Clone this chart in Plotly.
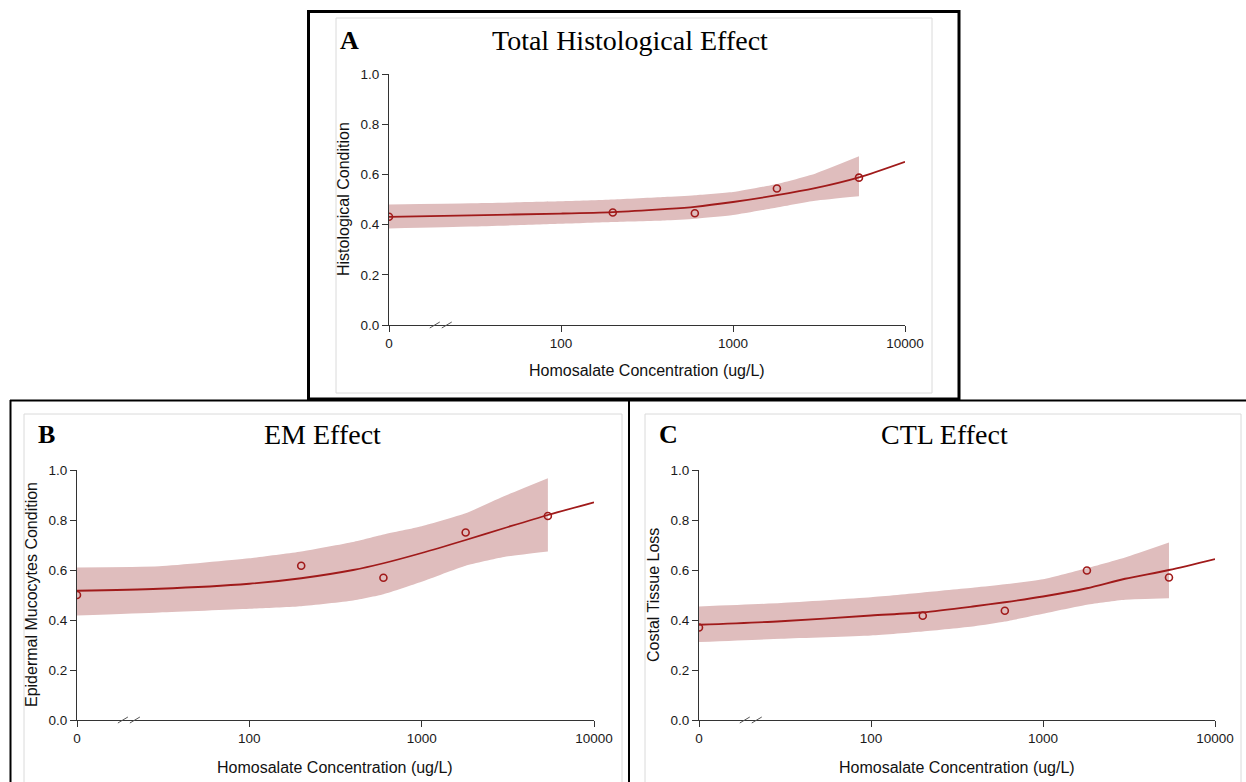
import numpy as np
import plotly.graph_objects as go

W, H = 1246, 782

# ---------------- data ----------------
CONC = [0, 200, 600, 1800, 5400]                      # tested concentrations (ug/L)
CURVE_X = [0, 30, 100, 200, 400, 600, 1000, 1800, 3000, 5400, 10000]
BAND_X = [0, 30, 100, 200, 400, 600, 1000, 1800, 3000, 5400]

A_POINTS = [0.431, 0.448, 0.445, 0.544, 0.587]
A_CURVE = [0.431, 0.437, 0.444, 0.450, 0.462, 0.471, 0.490, 0.517, 0.545, 0.588, 0.650]
A_UPPER = [0.480, 0.485, 0.493, 0.500, 0.510, 0.517, 0.530, 0.562, 0.603, 0.672]
A_LOWER = [0.384, 0.392, 0.403, 0.410, 0.416, 0.423, 0.438, 0.468, 0.495, 0.513]

B_POINTS = [0.500, 0.617, 0.569, 0.750, 0.816]
B_CURVE = [0.517, 0.525, 0.545, 0.567, 0.600, 0.627, 0.668, 0.720, 0.767, 0.820, 0.871]
B_UPPER = [0.610, 0.615, 0.647, 0.674, 0.712, 0.742, 0.775, 0.827, 0.895, 0.967]
B_LOWER = [0.418, 0.430, 0.445, 0.455, 0.478, 0.503, 0.553, 0.617, 0.652, 0.674]

C_POINTS = [0.370, 0.417, 0.437, 0.598, 0.570]
C_CURVE = [0.381, 0.395, 0.418, 0.431, 0.455, 0.471, 0.494, 0.527, 0.565, 0.600, 0.644]
C_UPPER = [0.454, 0.468, 0.491, 0.510, 0.530, 0.543, 0.563, 0.607, 0.650, 0.710]
C_LOWER = [0.312, 0.325, 0.338, 0.354, 0.375, 0.394, 0.425, 0.461, 0.481, 0.487]

X_TICKS = [0, 100, 1000, 10000]
X_TICK_TEXT = ["0", "100", "1000", "10000"]
Y_TICKS = [0.0, 0.2, 0.4, 0.6, 0.8, 1.0]

PANELS = [
    dict(letter="A", title="Total Histological Effect", ytitle="Histological Condition",
         pts=A_POINTS, curve=A_CURVE, up=A_UPPER, lo=A_LOWER),
    dict(letter="B", title="EM Effect", ytitle="Epidermal Mucocytes Condition",
         pts=B_POINTS, curve=B_CURVE, up=B_UPPER, lo=B_LOWER),
    dict(letter="C", title="CTL Effect", ytitle="Costal Tissue Loss",
         pts=C_POINTS, curve=C_CURVE, up=C_UPPER, lo=C_LOWER),
]
XLABEL = "Homosalate Concentration (ug/L)"

ZERO_POS = 10      # axis position used for the "0" concentration (broken axis)
BREAK_AT = 20      # where the axis-break symbol is drawn

def pos(v):
    return [ZERO_POS if c == 0 else c for c in v]

# ---------------- layout geometry (pixels) ----------------
GEOM = [
    dict(x0=389, x1=905, y0=74, y1=325, frame=(336, 932, 18, 393),
         title_xy=(630, 41), letter_xy=(349, 41), ytitle_xy=(343, 199), xtitle_xy=(647, 370)),
    dict(x0=77, x1=594, y0=470, y1=720, frame=(24, 622, 414, 790),
         title_xy=(322, 434), letter_xy=(46, 434), ytitle_xy=(31, 595), xtitle_xy=(335, 767)),
    dict(x0=699, x1=1215, y0=470, y1=720, frame=(645, 1241, 414, 790),
         title_xy=(944, 434), letter_xy=(669, 434), ytitle_xy=(653, 595), xtitle_xy=(957, 767)),
]

def pxx(x):
    return x / W

def pyy(y):
    return 1 - y / H

LINE_COL = "#A01A1A"
BAND_COL = "#DFBDBD"
AXIS_COL = "#333333"
SERIF = "Liberation Serif, Times New Roman, serif"
SANS = "Liberation Sans, Arial, sans-serif"

fig = go.Figure()
layout = dict(width=W, height=H, margin=dict(l=0, r=0, t=0, b=0, pad=0, autoexpand=False),
              template="none",
              paper_bgcolor="white", plot_bgcolor="white", showlegend=False)
annotations = []
shapes = []

for i, (p, g) in enumerate(zip(PANELS, GEOM)):
    sfx = "" if i == 0 else str(i + 1)
    xa, ya = "x" + sfx, "y" + sfx
    bx = pos(BAND_X)
    fig.add_trace(go.Scatter(
        x=bx, y=p["lo"], xaxis=xa, yaxis=ya, mode="lines",
        line=dict(width=0, color=BAND_COL, shape="spline", smoothing=0.5),
        hoverinfo="skip"))
    fig.add_trace(go.Scatter(
        x=bx, y=p["up"], xaxis=xa, yaxis=ya, mode="lines", fill="tonexty", fillcolor=BAND_COL,
        line=dict(width=0, color=BAND_COL, shape="spline", smoothing=0.5),
        hoverinfo="skip"))
    fig.add_trace(go.Scatter(
        x=pos(CURVE_X), y=p["curve"], xaxis=xa, yaxis=ya, mode="lines",
        line=dict(color=LINE_COL, width=1.8, shape="spline", smoothing=0.8)))
    fig.add_trace(go.Scatter(
        x=pos(CONC), y=p["pts"], xaxis=xa, yaxis=ya, mode="markers",
        marker=dict(symbol="circle-open", size=7, color=LINE_COL, line=dict(width=1.6, color=LINE_COL))))

    layout["xaxis" + sfx] = dict(
        type="log", range=[np.log10(ZERO_POS), 4], domain=[pxx(g["x0"]), pxx(g["x1"])],
        anchor=ya, automargin=False, showgrid=False, zeroline=False, showline=True,
        linecolor=AXIS_COL, linewidth=1, mirror=False,
        ticks="outside", ticklen=6, tickcolor=AXIS_COL, tickwidth=1,
        tickvals=pos(X_TICKS), ticktext=X_TICK_TEXT,
        tickfont=dict(family=SANS, size=13.5, color="#1a1a1a"))
    layout["yaxis" + sfx] = dict(
        range=[0, 1], domain=[pyy(g["y1"]), pyy(g["y0"])], anchor=xa,
        automargin=False, showgrid=False, zeroline=False, showline=True,
        linecolor=AXIS_COL, linewidth=1, mirror=False,
        ticks="outside", ticklen=6, tickcolor=AXIS_COL, tickwidth=1,
        tickvals=Y_TICKS, tickformat=".1f",
        tickfont=dict(family=SANS, size=13.5, color="#1a1a1a"))

    # titles
    tx, ty = g["title_xy"]
    annotations.append(dict(x=pxx(tx), y=pyy(ty), xref="paper", yref="paper", text=p["title"],
                            showarrow=False, xanchor="center", yanchor="middle",
                            font=dict(family=SERIF, size=28, color="black")))
    lx, ly = g["letter_xy"]
    annotations.append(dict(x=pxx(lx), y=pyy(ly), xref="paper", yref="paper", text="<b>%s</b>" % p["letter"],
                            showarrow=False, xanchor="center", yanchor="middle",
                            font=dict(family=SERIF, size=26, color="black")))
    yx, yy = g["ytitle_xy"]
    annotations.append(dict(x=pxx(yx), y=pyy(yy), xref="paper", yref="paper", text=p["ytitle"],
                            showarrow=False, textangle=-90, xanchor="center", yanchor="middle",
                            font=dict(family=SANS, size=16, color="#111")))
    xx, xy = g["xtitle_xy"]
    annotations.append(dict(x=pxx(xx), y=pyy(xy), xref="paper", yref="paper", text=XLABEL,
                            showarrow=False, xanchor="center", yanchor="middle",
                            font=dict(family=SANS, size=16, color="#111")))

    # inner light frame (original figure border)
    fx0, fx1, fy0, fy1 = g["frame"]
    shapes.append(dict(type="rect", xref="paper", yref="paper", x0=pxx(fx0), x1=pxx(fx1),
                       y0=pyy(fy1), y1=pyy(fy0), line=dict(color="#DADADA", width=1), layer="below"))

    # axis break symbol "//"
    decade = (g["x1"] - g["x0"]) / 3.0
    bxp = g["x0"] + (np.log10(BREAK_AT) - np.log10(ZERO_POS)) * decade
    for off in (-6, 6):
        cx = bxp + off
        shapes.append(dict(type="line", xref="paper", yref="paper",
                           x0=pxx(cx - 5), x1=pxx(cx + 5), y0=pyy(g["y1"] + 3), y1=pyy(g["y1"] - 3),
                           line=dict(color="#555", width=1)))

# black panel borders
shapes.append(dict(type="line", xref="paper", yref="paper", x0=pxx(10), x1=1, y0=pyy(400.5), y1=pyy(400.5),
                   line=dict(color="black", width=2)))
shapes.append(dict(type="line", xref="paper", yref="paper", x0=pxx(10.5), x1=pxx(10.5), y0=pyy(400), y1=0,
                   line=dict(color="black", width=2)))
shapes.append(dict(type="line", xref="paper", yref="paper", x0=pxx(629), x1=pxx(629), y0=pyy(400), y1=0,
                   line=dict(color="black", width=2)))
shapes.append(dict(type="rect", xref="paper", yref="paper", x0=pxx(308.5), x1=pxx(959), y0=pyy(399), y1=pyy(11.5),
                   line=dict(color="black", width=3)))

layout["annotations"] = annotations
layout["shapes"] = shapes
fig.update_layout(**layout)
fig.write_html("out.html", config={"displayModeBar": False},
               post_script="document.body.style.margin='0';document.body.style.overflow='hidden';")
